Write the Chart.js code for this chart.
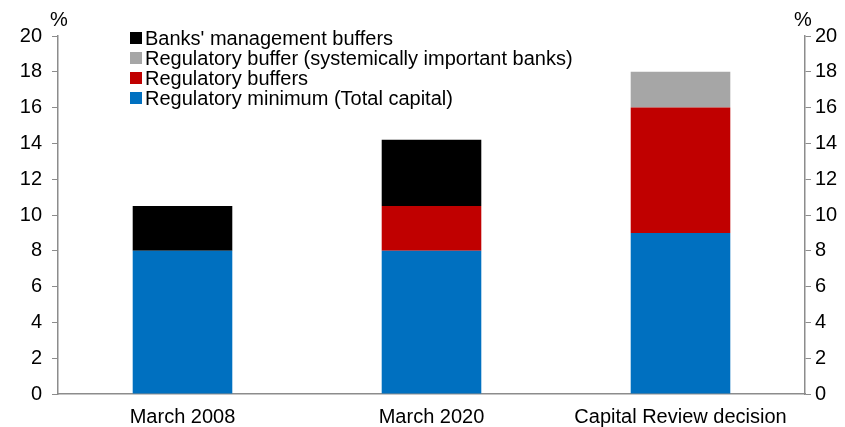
<!DOCTYPE html>
<html>
<head>
<meta charset="utf-8">
<script src="https://cdn.jsdelivr.net/npm/chart.js@4"></script>
<style>
  html, body { margin: 0; padding: 0; background: #fff; }
  #wrap { width: 845px; height: 427px; }
</style>
</head>
<body>
<div id="wrap"><canvas id="chart" width="845" height="427"></canvas></div>
<script>
  // ---- data ----
  const categories = ["March 2008", "March 2020", "Capital Review decision"];
  const regMinimum = [8, 8, 9];        // Regulatory minimum (Total capital)
  const regBuffers = [0, 2.5, 7];      // Regulatory buffers
  const sibBuffer  = [0, 0, 2];        // Regulatory buffer (systemically important banks)
  const mgmtBuffer = [2.5, 3.7, 0];    // Banks' management buffers
  const yTicks = [0, 2, 4, 6, 8, 10, 12, 14, 16, 18, 20];

  const FONT = "'Liberation Sans', Arial, sans-serif";
  const AXIS = "#8c8c8c";

  // legend drawn by hand, top-left inside plot, reversed order like the original
  const legendPlugin = {
    id: "boxLegend",
    afterDraw(chart) {
      const ctx = chart.ctx;
      const items = chart.data.datasets.slice().reverse();
      ctx.save();
      ctx.font = "20px " + FONT;
      ctx.textBaseline = "middle";
      items.forEach((ds, i) => {
        const y = 38 + i * 20;
        ctx.fillStyle = ds.backgroundColor;
        ctx.fillRect(130, y - 6, 12, 12);
        ctx.fillStyle = "#000";
        ctx.fillText(ds.label, 145, y + 1);
      });
      // "%" unit labels over each axis
      ctx.textAlign = "center";
      ctx.fillText("%", 59, 20);
      ctx.fillText("%", 803, 20);
      ctx.restore();
    }
  };

  const tickFont = { family: FONT, size: 20 };

  new Chart(document.getElementById("chart"), {
    type: "bar",
    data: {
      labels: categories,
      datasets: [
        { label: "Regulatory minimum (Total capital)", data: regMinimum, backgroundColor: "#0070c0" },
        { label: "Regulatory buffers", data: regBuffers, backgroundColor: "#c00000" },
        { label: "Regulatory buffer (systemically important banks)", data: sibBuffer, backgroundColor: "#a6a6a6" },
        { label: "Banks' management buffers", data: mgmtBuffer, backgroundColor: "#000000" }
      ]
    },
    options: {
      responsive: false,
      animation: false,
      layout: { padding: { top: 36, left: 0, right: 0, bottom: 0 } },
      datasets: { bar: { categoryPercentage: 1, barPercentage: 0.4 } },
      plugins: { legend: { display: false }, tooltip: { enabled: false } },
      scales: {
        x: {
          stacked: true,
          grid: { display: false },
          border: { color: AXIS, width: 1.5 },
          ticks: { color: "#000", font: tickFont, padding: 3, maxRotation: 0 },
          afterFit(s) { s.height = 33; }
        },
        y: {
          stacked: true,
          min: 0, max: 20,
          afterBuildTicks(s) { s.ticks = yTicks.map(v => ({ value: v })); },
          grid: { drawOnChartArea: false, drawTicks: true, tickLength: 6, color: AXIS },
          border: { color: AXIS, width: 1.5 },
          ticks: { color: "#000", font: tickFont, padding: 10 },
          afterFit(s) { s.width = 58; }
        },
        y2: {
          display: true,
          position: "right",
          min: 0, max: 20,
          afterBuildTicks(s) { s.ticks = yTicks.map(v => ({ value: v })); },
          grid: { drawOnChartArea: false, drawTicks: true, tickLength: 6, color: AXIS },
          border: { color: AXIS, width: 1.5 },
          ticks: { color: "#000", font: tickFont, padding: 4 },
          afterFit(s) { s.width = 40; }
        }
      }
    },
    plugins: [legendPlugin]
  });
</script>
</body>
</html>
